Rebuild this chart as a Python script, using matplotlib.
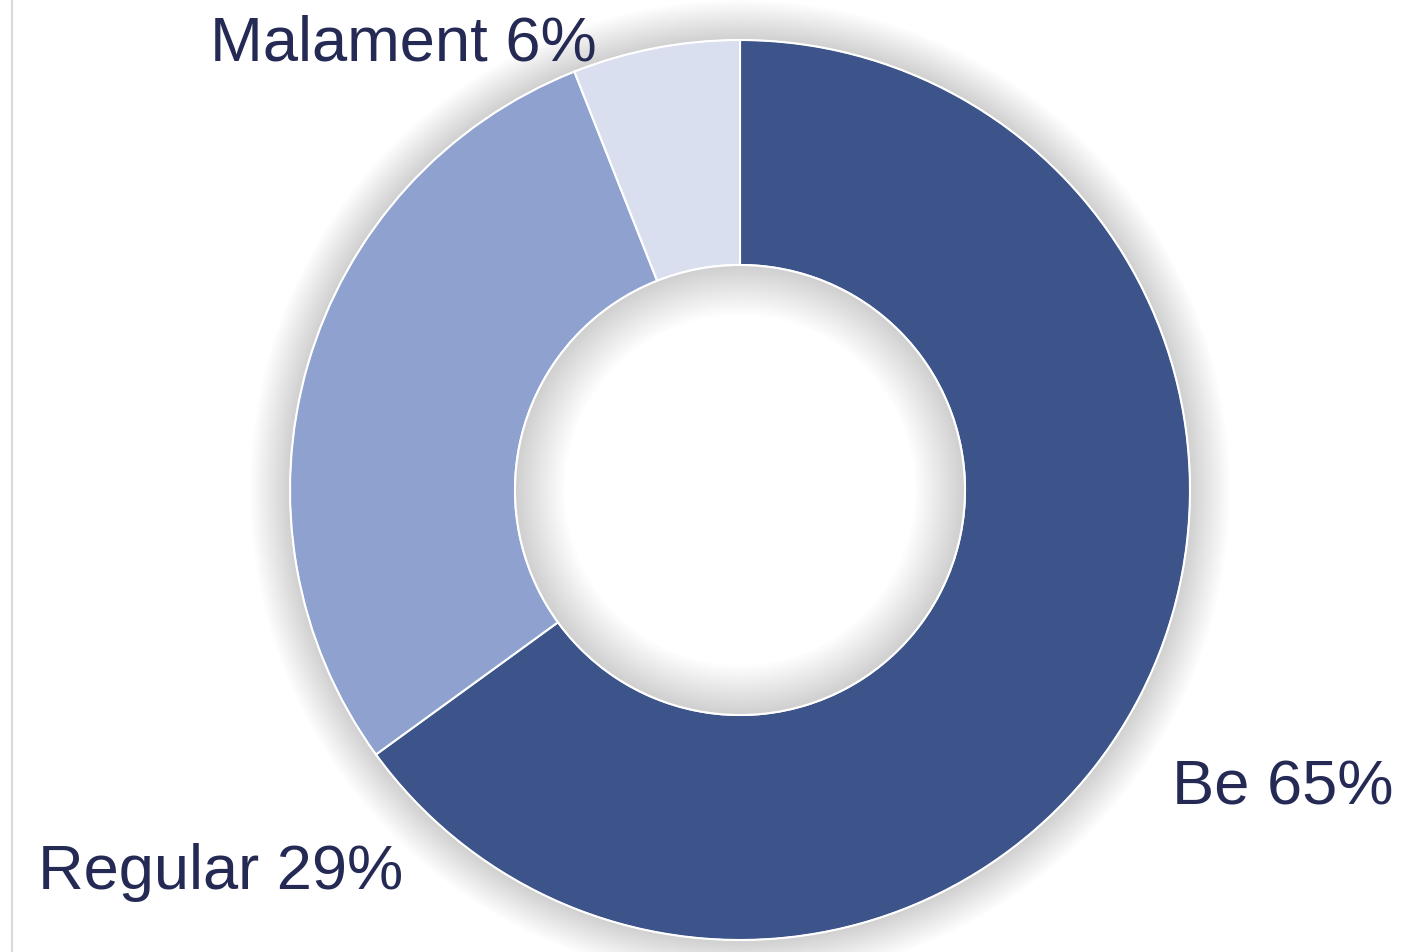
import matplotlib
matplotlib.use("Agg")
import matplotlib.pyplot as plt
from matplotlib.patches import Circle, Wedge
import numpy as np

labels = ["Be", "Regular", "Malament"]
values = [65, 29, 6]
colors = ["#3D548B", "#8FA2CF", "#D9DFEF"]
text_color = "#252A55"

W, H = 1422, 952
fig = plt.figure(figsize=(W / 100, H / 100), dpi=100)
ax = fig.add_axes([0, 0, 1, 1])
ax.set_xlim(0, W)
ax.set_ylim(0, H)
ax.set_aspect("equal")
ax.axis("off")

cx, cy = 740, H - 490
R, r_in = 450, 225

# outer soft shadow
for d in np.linspace(1, 40, 24):
    ax.add_patch(Circle((cx, cy), R + d, fc="black", ec="none", alpha=0.0075, zorder=1))

wedges, _ = ax.pie(values, colors=colors, startangle=90, counterclock=False,
                   center=(cx, cy), radius=R,
                   wedgeprops=dict(width=R - r_in, edgecolor="white", linewidth=1.5))
for w in wedges:
    w.set_zorder(2)

# white hole then inner shadow
ax.add_patch(Circle((cx, cy), r_in, fc="white", ec="none", zorder=3))
for d in np.linspace(2, 50, 24):
    ax.add_patch(Wedge((cx, cy), r_in, 0, 360, width=d, fc="black", ec="none", alpha=0.0075, zorder=4))
ax.add_patch(Circle((cx, cy), r_in, fc="none", ec="white", lw=1.5, zorder=5))
ax.add_patch(Circle((cx, cy), R, fc="none", ec="white", lw=1.0, zorder=5))

ax.set_xlim(0, W)
ax.set_ylim(0, H)

fs = 45.5
font = "Liberation Sans"
pct = [f"{l} {v}%" for l, v in zip(labels, values)]
ax.text(1172, H - 788, pct[0], fontsize=fs, color=text_color, family=font, ha="left", va="center", zorder=6)
ax.text(38, H - 872, pct[1], fontsize=fs, color=text_color, family=font, ha="left", va="center", zorder=6)
ax.text(210, H - 44, pct[2], fontsize=fs, color=text_color, family=font, ha="left", va="center", zorder=6)

# left border line
fig.add_artist(plt.Line2D([11.5 / W, 11.5 / W], [0, 1], color="#D9D9D9", lw=1.5, transform=fig.transFigure))

fig.savefig("out.png", dpi=100)
